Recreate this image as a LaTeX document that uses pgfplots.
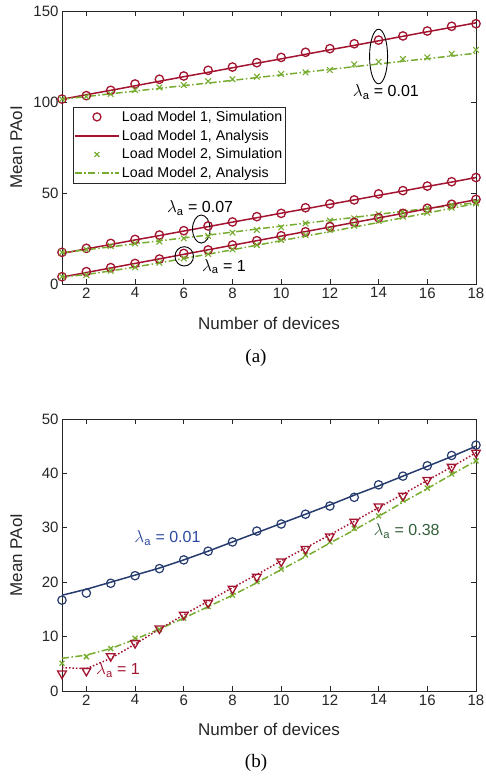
\documentclass[border=0pt]{standalone}
\usepackage{pgfplots}
\pgfplotsset{compat=1.18}
\usepackage{amsmath}
\usepackage{fontspec}
\setmainfont{Liberation Sans}
\newfontfamily\capfont{Liberation Serif}
\definecolor{mred}{RGB}{162,20,47}
\definecolor{mgreen}{RGB}{119,172,48}
\definecolor{mblue}{RGB}{38,60,110}
\definecolor{lblue}{RGB}{45,72,160}
\definecolor{dgreen}{RGB}{50,95,55}
\definecolor{axgray}{RGB}{38,38,38}
\newcommand\tickfont{\fontsize{15}{18}\selectfont}
\newcommand\labfont{\fontsize{17}{20}\selectfont}
\newcommand\lam{$\lambda_{\text{a}}$}
\pgfplotsset{
  mystyle/.style={
    scale only axis, width=414pt,
    xmin=1, xmax=18, xtick={2,4,...,18},
    tick align=inside, major tick length=5pt,
    axis line style={axgray, line width=0.7pt},
    tick style={axgray, line width=0.7pt},
    every tick label/.append style={font=\tickfont, text=axgray},
    /pgf/number format/assume math mode=true,
    xlabel={Number of devices}, ylabel={Mean PAoI},
    label style={font=\labfont, text=axgray},
    xlabel style={at={(axis description cs:0.5,-0.143)}, anchor=center},
    ylabel style={at={(axis description cs:-0.11,0.5)}, anchor=center, rotate=0},
    clip=false,
  },
  sim1/.style={only marks, mred, mark=o, mark size=4.2pt, mark options={line width=1.3pt}},
  ana1/.style={no marks, mred, line width=1.5pt},
  sim2/.style={only marks, mgreen, mark=x, mark size=4pt, mark options={line width=1.1pt}},
  ana2/.style={no marks, mgreen, line width=1.5pt, dash pattern=on 7pt off 2.5pt on 1.5pt off 2.5pt},
}
\begin{document}
\begin{tikzpicture}
\begin{axis}[mystyle, at={(62pt,493pt)}, anchor=south west, height=273pt,
  ymin=0, ymax=150, ytick={0,50,100,150},
  legend style={at={(axis description cs:0.026,0.649)}, anchor=north west,
    draw=axgray, fill=white, font=\fontsize{14.2}{17}\selectfont,
    legend cell align=left, row sep=3pt, inner xsep=1pt, inner ysep=2pt},
  legend image code/.code={\draw[mark repeat=2,mark phase=2,#1] plot coordinates {(0pt,0pt) (22pt,0pt) (44pt,0pt)};},
]
\addlegendimage{only marks, mred, mark=o, mark size=4pt, mark options={line width=1.3pt}}
\addlegendentry{Load Model 1, Simulation}
\addlegendimage{no marks, draw=mred, line width=2pt}
\addlegendentry{Load Model 1, Analysis}
\addlegendimage{only marks, mgreen, mark=x, mark size=3.5pt, mark options={line width=1.1pt}}
\addlegendentry{Load Model 2, Simulation}
\addlegendimage{no marks, draw=mgreen, line width=2pt, dash pattern=on 7pt off 2.5pt on 1.5pt off 2.5pt}
\addlegendentry{Load Model 2, Analysis}
% lambda = 0.01
\addplot[sim1, forget plot] coordinates {(1,101.6)(2,103.5)(3,106.4)(4,109.9)(5,112.5)(6,114.3)(7,117.4)(8,119.2)(9,121.6)(10,124.5)(11,127.3)(12,129.3)(13,132.0)(14,134.0)(15,136.3)(16,139.0)(17,141.6)(18,143.0)};
\addplot[ana1, forget plot] coordinates {(1,101.5)(2,104.0)(3,106.4)(4,108.9)(5,111.4)(6,113.9)(7,116.3)(8,118.8)(9,121.3)(10,123.7)(11,126.2)(12,128.7)(13,131.1)(14,133.6)(15,136.1)(16,138.6)(17,141.0)(18,143.5)};
\addplot[sim2, forget plot] coordinates {(1,101.6)(2,103.0)(3,104.4)(4,106.6)(5,108.0)(6,109.3)(7,111.4)(8,112.5)(9,113.9)(10,115.4)(11,116.3)(12,117.6)(13,120.7)(14,122.1)(15,123.6)(16,124.5)(17,126.5)(18,128.6)};
\addplot[ana2, forget plot] coordinates {(1,101.5)(2,103.0)(3,104.5)(4,106.0)(5,107.5)(6,109.0)(7,110.4)(8,111.9)(9,113.4)(10,114.9)(11,116.4)(12,117.9)(13,119.4)(14,120.9)(15,122.4)(16,123.8)(17,125.3)(18,126.8)};
% lambda = 0.07
\addplot[sim1, forget plot] coordinates {(1,17.4)(2,19.6)(3,22.3)(4,24.5)(5,26.9)(6,29.3)(7,31.9)(8,34.1)(9,37.0)(10,38.8)(11,41.9)(12,44.0)(13,46.2)(14,49.5)(15,51.3)(16,53.8)(17,56.2)(18,58.5)};
\addplot[ana1, forget plot] coordinates {(1,16.8)(2,19.3)(3,21.7)(4,24.2)(5,26.6)(6,29.1)(7,31.5)(8,34.0)(9,36.4)(10,38.9)(11,41.3)(12,43.8)(13,46.2)(14,48.7)(15,51.1)(16,53.6)(17,56.0)(18,58.5)};
\addplot[sim2, forget plot] coordinates {(1,17.4)(2,19.0)(3,20.9)(4,22.3)(5,23.3)(6,25.1)(7,26.4)(8,28.2)(9,29.7)(10,31.1)(11,33.3)(12,34.8)(13,36.1)(14,38.3)(15,39.7)(16,41.9)(17,43.4)(18,45.0)};
\addplot[ana2, forget plot] coordinates {(1,17.2)(2,18.8)(3,20.4)(4,22.1)(5,23.7)(6,25.3)(7,26.9)(8,28.5)(9,30.2)(10,31.8)(11,33.4)(12,35.0)(13,36.6)(14,38.3)(15,39.9)(16,41.5)(17,43.1)(18,44.7)};
% lambda = 1
\addplot[sim1, forget plot] coordinates {(1,4.0)(2,6.8)(3,9.0)(4,11.3)(5,13.7)(6,16.8)(7,18.7)(8,21.4)(9,23.8)(10,26.5)(11,28.7)(12,31.5)(13,33.9)(14,36.4)(15,38.8)(16,41.6)(17,43.8)(18,46.5)};
\addplot[ana1, forget plot] coordinates {(1,3.8)(2,6.3)(3,8.8)(4,11.3)(5,13.8)(6,16.3)(7,18.8)(8,21.3)(9,23.8)(10,26.3)(11,28.8)(12,31.3)(13,33.8)(14,36.3)(15,38.8)(16,41.3)(17,43.8)(18,46.3)};
\addplot[sim2, forget plot] coordinates {(1,4.0)(2,4.9)(3,7.3)(4,9.2)(5,11.7)(6,14.1)(7,16.5)(8,19.0)(9,21.4)(10,24.2)(11,26.9)(12,29.7)(13,31.9)(14,34.6)(15,37.0)(16,39.2)(17,41.9)(18,44.3)};
\addplot[ana2, forget plot] coordinates {(1,3.8)(2,5.2)(3,7.2)(4,9.3)(5,11.6)(6,14.0)(7,16.4)(8,18.8)(9,21.3)(10,23.8)(11,26.3)(12,28.8)(13,31.3)(14,33.8)(15,36.4)(16,39.0)(17,41.6)(18,44.2)};
% annotations
\draw[black, line width=0.9pt] (axis cs:14,125) ellipse [x radius=0.37, y radius=15];
\draw[black, line width=0.9pt] (axis cs:6.72,30.2) ellipse [x radius=0.36, y radius=7.7];
\draw[black, line width=0.9pt] (axis cs:6.02,15.2) ellipse [x radius=0.38, y radius=5.3];
\node[font=\fontsize{16}{18}\selectfont] at (axis cs:14.3,105.5) {\lam{} = 0.01};
\node[font=\fontsize{16}{18}\selectfont] at (axis cs:6.67,41.8) {\lam{} = 0.07};
\node[font=\fontsize{16}{18}\selectfont] at (axis cs:7.65,9.5) {\lam{} = 1};
\end{axis}
\node[font=\capfont\fontsize{19}{22}\selectfont] at (256pt,419pt) {(a)};

\begin{axis}[mystyle, at={(62pt,86pt)}, anchor=south west, height=272pt,
  ymin=0, ymax=50, ytick={0,10,...,50}]
\addplot[only marks, mblue, mark=o, mark size=4.2pt, mark options={line width=1.2pt}] coordinates {(1,16.7)(2,18.0)(3,19.8)(4,21.2)(5,22.5)(6,24.1)(7,25.7)(8,27.4)(9,29.4)(10,30.7)(11,32.5)(12,34.0)(13,35.6)(14,37.9)(15,39.5)(16,41.4)(17,43.3)(18,45.2)};
\addplot[no marks, mblue, line width=1.5pt] coordinates {(1,17.6)(2,18.7)(3,20.0)(4,21.3)(5,22.6)(6,24.1)(7,25.7)(8,27.4)(9,29.1)(10,30.8)(11,32.5)(12,34.2)(13,36.0)(14,37.7)(15,39.5)(16,41.3)(17,43.1)(18,45.0)};
\addplot[no marks, mgreen, line width=1.5pt, dash pattern=on 7pt off 2.5pt on 1.5pt off 2.5pt] coordinates {(1,6.0)(2,6.6)(3,7.8)(4,9.5)(5,11.4)(6,13.4)(7,15.5)(8,17.6)(9,19.9)(10,22.3)(11,24.7)(12,27.2)(13,29.6)(14,32.1)(15,34.7)(16,37.2)(17,39.8)(18,42.3)};
\addplot[only marks, mgreen, mark=x, mark size=3.5pt, mark options={line width=1.3pt}] coordinates {(1,5.1)(2,6.3)(3,7.8)(4,9.7)(5,11.3)(6,13.4)(7,15.5)(8,17.6)(9,20.1)(10,22.4)(11,25.0)(12,27.4)(13,29.9)(14,32.2)(15,35.1)(16,37.3)(17,39.9)(18,42.3)};
\addplot[no marks, mred, line width=1.5pt, dash pattern=on 1.5pt off 2pt] coordinates {(1,4.3)(2,4.1)(3,6.0)(4,8.6)(5,11.4)(6,14.0)(7,16.5)(8,19.0)(9,21.4)(10,23.9)(11,26.3)(12,28.7)(13,31.2)(14,33.7)(15,36.2)(16,38.7)(17,41.2)(18,43.8)};
\addplot[only marks, mred, mark=triangle, mark size=5pt, mark options={rotate=180, line width=1.3pt}] coordinates {(1,3.2)(2,3.7)(3,6.4)(4,8.8)(5,11.5)(6,14.0)(7,16.2)(8,18.8)(9,21.0)(10,23.8)(11,26.1)(12,28.4)(13,31.1)(14,33.9)(15,35.9)(16,38.8)(17,41.2)(18,43.8)};
\node[font=\fontsize{16}{18}\selectfont, text=lblue] at (axis cs:5.33,28.1) {\lam{} = 0.01};
\node[font=\fontsize{16}{18}\selectfont, text=dgreen] at (axis cs:15.15,29.4) {\lam{} = 0.38};
\node[font=\fontsize{16}{18}\selectfont, text=mred] at (axis cs:3.3,3.9) {\lam{} = 1};
\end{axis}
\node[font=\capfont\fontsize{19}{22}\selectfont] at (256pt,14pt) {(b)};
\pgfresetboundingbox
\useasboundingbox (0pt,0pt) rectangle (485pt,777pt);
\end{tikzpicture}
\end{document}
